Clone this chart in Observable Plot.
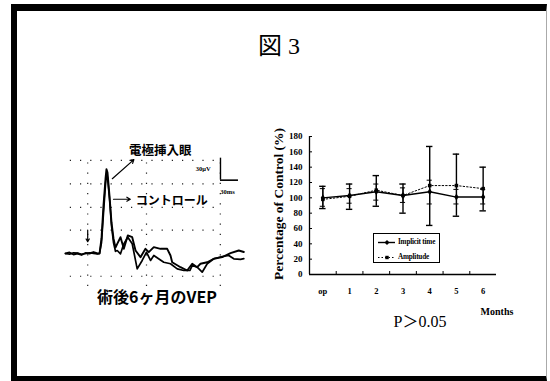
<!DOCTYPE html>
<html>
<head>
<meta charset="utf-8">
<script src="https://cdn.jsdelivr.net/npm/d3@7"></script>
<script src="https://cdn.jsdelivr.net/npm/@observablehq/plot@0.6"></script>
<style>
  body { margin: 0; background: #fff; }
  #page { position: relative; width: 550px; height: 381px; overflow: hidden; background: #fff;
          font-family: "Liberation Serif", "Noto Sans CJK JP", serif; color: #000; }
  .abs { position: absolute; }
  #frame { left: 11px; top: 4px; width: 529px; height: 365px;
           border-left: 6px solid #000; border-top: 7px solid #000; border-bottom: 5px solid #000;
           border-right: 1px solid #aaa; }
  #title { left: 258px; top: 30px; font-size: 24px; line-height: 27px; white-space: nowrap; }
  #caption { left: 157px; top: 287px; transform: translateX(-50%); font-family: "Noto Sans CJK JP", sans-serif;
             font-weight: 700; font-size: 16px; line-height: 18px; white-space: nowrap; }
  #months { left: 497px; top: 306px; transform: translateX(-50%); font-size: 10px; font-weight: bold; line-height: 12px; }
  #pval { left: 420px; top: 310px; transform: translateX(-50%); font-size: 16px; line-height: 20px; white-space: nowrap; }
  #ylabel { left: 278px; top: 204px; transform: translate(-50%, -50%) rotate(-90deg); font-size: 13.5px; font-weight: bold;
            line-height: 15px; white-space: nowrap; }
  #legend { left: 373px; top: 233px; width: 65px; height: 28px; border: 1px solid #000; background: #fff; }
  .lrow { position: absolute; left: 0; height: 9px; width: 65px; }
  .lrow svg { position: absolute; left: 3px; top: 0; }
  .lrow span { position: absolute; left: 24px; top: -0.5px; font-size: 7.2px; font-weight: bold; line-height: 10px;
               white-space: nowrap; letter-spacing: -0.2px; color: #000; }
</style>
</head>
<body>
<div id="page">
  <div id="frame" class="abs"></div>
  <div id="title" class="abs"><span style="font-family:'Noto Sans CJK JP'">図</span> 3</div>
  <div id="vep" class="abs" style="left:40px;top:130px;"></div>
  <div id="chart" class="abs" style="left:250px;top:120px;"></div>
  <div id="ylabel" class="abs"></div>
  <div id="legend" class="abs"></div>
  <div id="caption" class="abs">術後6ヶ月のVEP</div>
  <div id="months" class="abs">Months</div>
  <div id="pval" class="abs">P<span style="font-family:'Noto Sans CJK JP'">＞</span>0.05</div>
</div>
<script>
// ---------- Right chart data ----------
const months = ["op", "1", "2", "3", "4", "5", "6"];
const seriesNames = ["Implicit time", "Amplitude"];
const implicitTime = [100, 103, 108, 103, 108, 101, 101];
const implicitLo   = [89, 93, 97, 94, 92, 92, 92];
const implicitHi   = [112, 112, 118, 113, 123, 111, 111];
const amplitude    = [98, 102, 110, 103, 116, 116, 112];
const amplitudeLo  = [86, 85, 89, 80, 64, 76, 83];
const amplitudeHi  = [115, 118, 129, 118, 167, 157, 140];
const yTicks = [0, 20, 40, 60, 80, 100, 120, 140, 160, 180];
const yLabel = "Percentage of Control (%)";

// ---------- VEP waveform data (ms, μV) ----------
const vepTimeA = [0,6.7,13.3,20,26.7,33.3,40,46.7,53.3,56.7,60,63.3,66.7,68.3,70,73.3,76.7,80,83.3,
  86.2,91.7,97.2,103.8,111.2,116.7,125,133.3,138.8,147.2,158.3,169.5,175,177.8,191.7,202.8,211.2,219.5,225,236.2,247.2,261.2,275,288.8,297.2];
const vepElectrode = [0,1.4,-1.4,0,-2,0.7,0,2,0,0,20.5,65.5,102,115,110.5,79,42,20.5,8,
  13.2,22.2,6.4,24.6,22.2,4.1,-5,6.4,1.8,8.6,6.4,6.4,-2.7,-11.9,-18.7,-23.2,-14,-18.7,-14,-11.9,-7.2,-5,0.4,4.1,2];
const vepTimeB = [0,6.7,13.3,20,26.7,33.3,40,46.7,53.3,56.7,60,63.3,66.7,68.3,70,73.3,76.7,80,83.3,
  86.2,91.7,97.2,103.8,111.2,119.5,127.8,135,141.7,147.2,163.8,175,186.2,197.2,207.2,211.2,219.5,227.8,236.2,247.2,261.2,272.2,280.5,291.7,297.2];
const vepControl = [0,-1,1,0.5,-1,0,1,0,-0.5,0,15,55,95,108,104,75,38,15,3,
  4.1,-0.4,13.2,22.2,13.2,-20.9,-9.5,1.8,-9.5,-2.7,-11.9,-14,-20.9,-23.2,-23.2,-16.4,-18.7,-25.5,-14,-7.2,-4.1,-2.7,-7.2,-8,-7];
const vepGridV = [-31, 32, 63, 95, 127];
const vepGridT = [37, 135, 258];
const vepLabels = ["電極挿入眼", "コントロール"];
const scaleBarLabels = ["30μV", "30ms"];

// ---------- VEP panel ----------
const xDomV = [0, 300], yDomV = [-60, 150];
const traceA = vepTimeA.map((t, i) => ({t, v: vepElectrode[i]}));
const traceB = vepTimeB.map((t, i) => ({t, v: vepControl[i]}));
const dotted = {stroke: "#222", strokeWidth: 1.2, strokeDasharray: "1.2,9"};
const vep = Plot.plot({
  width: 220, height: 180,
  marginLeft: 25, marginRight: 15, marginTop: 13, marginBottom: 13,
  x: {domain: xDomV, axis: null},
  y: {domain: yDomV, axis: null},
  style: {background: "transparent", overflow: "visible"},
  marks: [
    Plot.ruleY(vepGridV, {x1: 8, x2: 262, ...dotted}),
    Plot.ruleX(vepGridT, {y1: -45, y2: 130, ...dotted}),
    Plot.line(traceB, {x: "t", y: "v", stroke: "#000", strokeWidth: 1.7}),
    Plot.line(traceA, {x: "t", y: "v", stroke: "#000", strokeWidth: 1.9}),
    Plot.arrow([{x1: 78, y1: 102, x2: 114, y2: 128}], {x1: "x1", y1: "y1", x2: "x2", y2: "y2", stroke: "#000", strokeWidth: 1.2, headLength: 5}),
    Plot.arrow([{x1: 80, y1: 74, x2: 108, y2: 74}], {x1: "x1", y1: "y1", x2: "x2", y2: "y2", stroke: "#000", strokeWidth: 1.2, headLength: 5}),
    Plot.arrow([{x1: 37, y1: 32, x2: 37, y2: 16}], {x1: "x1", y1: "y1", x2: "x2", y2: "y2", stroke: "#000", strokeWidth: 1.2, headLength: 4}),
    Plot.text([vepLabels[0]], {x: 158, y: 140, fontFamily: "Noto Sans CJK JP", fontWeight: 700, fontSize: 12.5}),
    Plot.text([vepLabels[1]], {x: 177, y: 72, fontFamily: "Noto Sans CJK JP", fontWeight: 700, fontSize: 12}),
    Plot.ruleX([258.3], {y1: 100, y2: 130, stroke: "#000", strokeWidth: 1.4}),
    Plot.ruleY([100], {x1: 258.3, x2: 288.3, stroke: "#000", strokeWidth: 1.6}),
    Plot.text([scaleBarLabels[0]], {x: 242, y: 116, textAnchor: "end", fontSize: 6.5, fontWeight: "bold", fontFamily: "Liberation Serif"}),
    Plot.text([scaleBarLabels[1]], {x: 270, y: 84, fontSize: 6.5, fontWeight: "bold", fontFamily: "Liberation Serif"})
  ]
});
document.getElementById("vep").appendChild(vep);

// ---------- Right chart ----------
const rows = months.map((m, i) => ({
  i, m,
  it: implicitTime[i], itLo: implicitLo[i], itHi: implicitHi[i],
  amp: amplitude[i], ampLo: amplitudeLo[i], ampHi: amplitudeHi[i]
}));
const xDom = [-0.5, months.length - 0.5];
const yDom = [0, 180];
const cap = 0.12;
const chart = Plot.plot({
  width: 260, height: 210,
  marginLeft: 59, marginRight: 14, marginTop: 16, marginBottom: 56,
  x: {domain: xDom, axis: null},
  y: {domain: yDom, axis: null},
  style: {background: "transparent", fontFamily: "Liberation Serif", color: "#000", overflow: "visible"},
  marks: [
    Plot.axisY({ticks: yTicks, tickSize: 0, tickPadding: 7, fontSize: 9, fontWeight: "bold", fill: "#000", label: null}),
    Plot.axisY({ticks: yTicks, tickSize: 3, dx: 3, tickFormat: () => "", label: null}),
    Plot.axisX({ticks: d3.range(months.length), tickFormat: i => months[i], tickSize: 0, tickPadding: 13, fontSize: 8.5, fontWeight: "bold", fill: "#000", label: null}),
    Plot.axisX({ticks: d3.range(0.5, months.length - 1), tickSize: 3, dy: -3, tickFormat: () => "", label: null}),
    Plot.ruleX([xDom[0]], {y1: yDom[0], y2: yDom[1], stroke: "#000", strokeWidth: 1.3}),
    Plot.ruleY([yDom[0]], {x1: xDom[0], x2: xDom[1], stroke: "#000", strokeWidth: 1.6}),
    Plot.ruleX(rows, {x: "i", y1: "ampLo", y2: "ampHi", stroke: "#000", strokeWidth: 1.4}),
    Plot.ruleY(rows, {y: "ampHi", x1: d => d.i - cap, x2: d => d.i + cap, stroke: "#000", strokeWidth: 1.4}),
    Plot.ruleY(rows, {y: "ampLo", x1: d => d.i - cap, x2: d => d.i + cap, stroke: "#000", strokeWidth: 1.4}),
    Plot.ruleX(rows, {x: "i", y1: "itLo", y2: "itHi", stroke: "#000", strokeWidth: 1}),
    Plot.ruleY(rows, {y: "itHi", x1: d => d.i - cap * 0.8, x2: d => d.i + cap * 0.8, stroke: "#000", strokeWidth: 1}),
    Plot.ruleY(rows, {y: "itLo", x1: d => d.i - cap * 0.8, x2: d => d.i + cap * 0.8, stroke: "#000", strokeWidth: 1}),
    Plot.line(rows, {x: "i", y: "amp", stroke: "#000", strokeWidth: 1, strokeDasharray: "1.5,2"}),
    Plot.line(rows, {x: "i", y: "it", stroke: "#000", strokeWidth: 1.4}),
    Plot.dot(rows, {x: "i", y: "amp", symbol: "square", r: 2, fill: "#000"}),
    Plot.dot(rows, {x: "i", y: "it", symbol: "diamond", r: 2.2, fill: "#000"})
  ]
});
document.getElementById("chart").appendChild(chart);
document.getElementById("ylabel").textContent = yLabel;

// ---------- Legend ----------
const legend = document.getElementById("legend");
const legendStyles = [
  {dash: null, width: 1.4, symbol: "diamond"},
  {dash: "1.5,2", width: 1, symbol: "square"}
];
seriesNames.forEach((name, k) => {
  const row = document.createElement("div");
  row.className = "lrow";
  row.style.top = (k === 0 ? 3.5 : 18.5) + "px";
  const st = legendStyles[k];
  const marker = st.symbol === "diamond"
    ? `<path d="M10,2 L12.5,4.5 L10,7 L7.5,4.5 Z" fill="#000"/>`
    : `<rect x="8.3" y="2.8" width="3.4" height="3.4" fill="#000"/>`;
  row.innerHTML = `<svg width="19" height="9"><line x1="1" x2="18" y1="4.5" y2="4.5" stroke="#000" stroke-width="${st.width}" ${st.dash ? `stroke-dasharray="${st.dash}"` : ""}/>${marker}</svg><span>${name}</span>`;
  legend.appendChild(row);
});
</script>
</body>
</html>
